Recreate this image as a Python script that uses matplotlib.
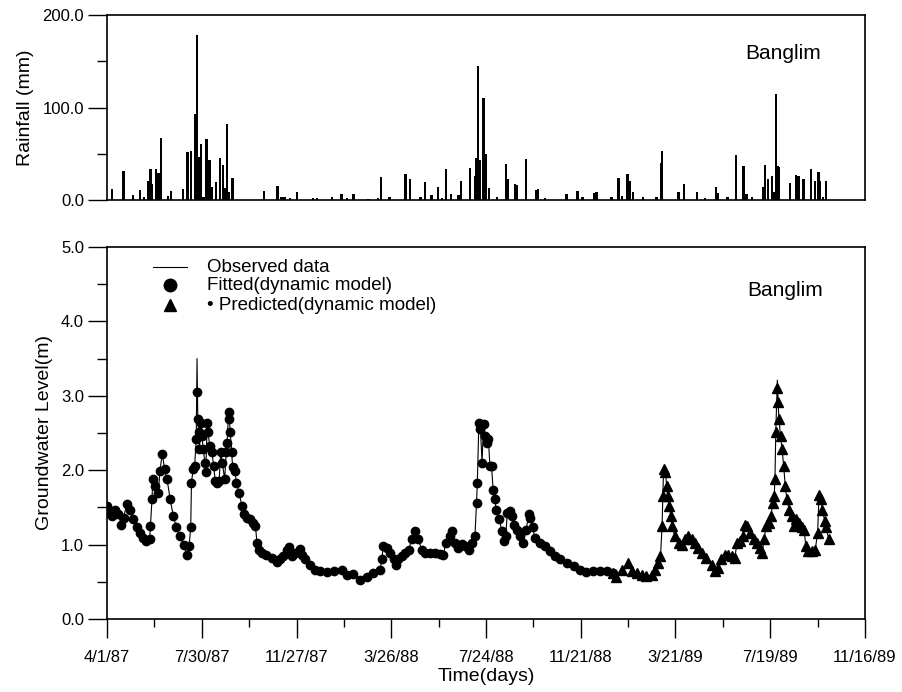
import numpy as np
import matplotlib
matplotlib.use('Agg')
import matplotlib.pyplot as plt
from matplotlib.ticker import MultipleLocator, FormatStrFormatter

plt.rcParams['font.family'] = ['Liberation Sans', 'DejaVu Sans']

# x axis: days since 4/1/87
tick_days = [0, 120, 240, 360, 480, 600, 720, 840, 960]
tick_labels = ['4/1/87', '7/30/87', '11/27/87', '3/26/88', '7/24/88',
               '11/21/88', '3/21/89', '7/19/89', '11/16/89']

# daily rainfall (mm)
rain_day = [6, 21, 33, 42, 47, 52, 55, 57, 62, 65, 68, 77, 81, 96, 102, 106,
            112, 114, 116, 119, 122, 126, 128, 130, 133, 138, 143, 147, 149,
            152, 154, 159, 199, 216, 221, 225, 232, 241, 261, 266, 285, 297,
            304, 312, 331, 343, 347, 358, 378, 384, 397, 403, 411, 419, 424,
            429, 436, 445, 448, 460, 466, 468, 470, 472, 477, 480, 484, 494,
            505, 508, 517, 519, 531, 544, 546, 555, 582, 596, 602, 617, 620,
            639, 648, 652, 659, 662, 666, 679, 696, 702, 703, 724, 731, 747,
            757, 771, 774, 786, 797, 806, 810, 817, 831, 833, 837, 842, 844,
            847, 849, 851, 865, 873, 876, 882, 892, 897, 901, 903, 907, 911]
rain_mm = [11.5, 31.5, 5, 11, 3, 20, 34, 17, 34, 29, 67, 4, 10, 12, 52, 53,
           93, 178, 47, 61, 3, 66, 36, 43, 14, 19, 45, 38, 13,
           82, 9, 24, 10, 15, 3, 3, 2, 9, 2, 2, 3, 6,
           2, 6, 1, 2, 25, 3, 28, 23, 3, 19, 5, 14, 2,
           33, 6, 5, 21, 35, 26, 45, 145, 43, 110, 50, 12.5, 3,
           39, 23, 17, 16, 44, 11, 12, 2, 7, 10, 3, 8, 9,
           3, 24, 4, 28, 21, 9, 3, 3, 40, 53, 9, 17, 9,
           2, 14, 8, 3, 49, 37, 6, 3, 14, 37.5, 23, 26, 9,
           115, 37, 36, 18.6, 27, 26, 23, 34, 20, 30, 21, 3, 20]

# groundwater level (m)
gw_day = [0, 2, 6, 10, 14, 18, 21, 25, 29, 33, 38, 42, 46, 50, 54, 55, 57, 58,
          61, 65, 67, 70, 73, 76, 80, 84, 88, 92, 97, 101, 104, 106, 107, 109,
          111, 113, 114, 115, 116, 117, 119, 120, 122, 124, 125, 127, 128, 130,
          133, 135, 137, 139, 142, 144, 146, 149, 151, 152, 154, 155, 156, 158,
          159, 162, 164, 167, 171, 173, 177, 181, 185, 188, 190, 192, 196, 202,
          209, 215, 219, 223, 228, 231, 234, 238, 244, 247, 251, 257, 263, 270,
          278, 287, 297, 304, 312, 320, 329, 337, 346, 348, 350, 354, 358, 363,
          366, 369, 373, 377, 382, 386, 390, 394, 399, 403, 409, 415, 422, 426,
          429, 434, 437, 441, 445, 449, 453, 458, 462, 466, 468, 469, 471, 473,
          475, 477, 479, 481, 483, 485, 487, 489, 491, 493, 497, 500, 503, 505,
          507, 510, 513, 515, 519, 523, 527, 531, 534, 536, 539, 542, 548, 555,
          561, 567, 574, 582, 591, 599, 607, 616, 624, 633, 641, 645, 652, 660,
          665, 671, 677, 683, 690, 694, 698, 701, 703, 704, 705, 707, 709, 710,
          712, 714, 716, 719, 724, 728, 732, 736, 741, 745, 749, 753, 759, 766,
          770, 774, 778, 783, 787, 791, 795, 798, 802, 805, 808, 811, 814, 819,
          823, 827, 830, 832, 835, 838, 841, 843, 845, 846, 847, 849, 850, 851,
          853, 855, 857, 859, 861, 864, 867, 870, 873, 877, 880, 883, 885, 888,
          893, 897, 900, 902, 904, 906, 909, 911, 914]
gw_obs = [1.52, 1.43, 1.38, 1.47, 1.41, 1.27, 1.36, 1.55, 1.47, 1.34, 1.23,
          1.16, 1.09, 1.05, 1.07, 1.25, 1.61, 1.88, 1.79, 1.70, 1.99, 2.22,
          2.01, 1.88, 1.61, 1.38, 1.23, 1.11, 1.00, 0.86, 0.98, 1.23, 1.83,
          2.01, 2.06, 2.42, 3.50, 2.69, 2.51, 2.28, 2.64, 2.46, 2.28, 2.10,
          1.97, 2.64, 2.51, 2.33, 2.24, 2.06, 1.86, 1.83, 1.86, 2.24, 2.10,
          1.88, 2.24, 2.37, 2.78, 2.69, 2.51, 2.24, 2.04, 1.99, 1.83, 1.70,
          1.52, 1.41, 1.36, 1.34, 1.29, 1.25, 1.02, 0.93, 0.89, 0.86, 0.82,
          0.77, 0.80, 0.84, 0.93, 0.97, 0.84, 0.89, 0.94, 0.86, 0.80, 0.73,
          0.66, 0.64, 0.63, 0.64, 0.66, 0.59, 0.61, 0.53, 0.57, 0.62, 0.66,
          0.80, 0.98, 0.95, 0.89, 0.80, 0.73, 0.80, 0.84, 0.89, 0.93, 1.07,
          1.18, 1.07, 0.93, 0.89, 0.89, 0.89, 0.88, 0.86, 1.02, 1.11, 1.18,
          1.02, 0.95, 1.01, 0.98, 0.93, 1.02, 1.11, 1.56, 1.83, 2.64, 2.55,
          2.10, 2.66, 2.46, 2.37, 2.42, 2.06, 2.06, 1.74, 1.61, 1.47, 1.34,
          1.18, 1.05, 1.11, 1.43, 1.45, 1.38, 1.27, 1.20, 1.11, 1.02, 1.20,
          1.41, 1.36, 1.23, 1.09, 1.02, 0.98, 0.91, 0.84, 0.80, 0.75, 0.71,
          0.66, 0.63, 0.64, 0.65, 0.64, 0.62, 0.57, 0.66, 0.75, 0.64, 0.62,
          0.59, 0.58, 0.59, 0.66, 0.75, 0.84, 1.25, 1.65, 2.05, 1.97, 1.79,
          1.65, 1.52, 1.38, 1.25, 1.11, 1.02, 1.00, 1.07, 1.11, 1.07, 1.02,
          0.95, 0.89, 0.82, 0.73, 0.64, 0.68, 0.80, 0.86, 0.86, 0.84, 0.82,
          1.02, 1.05, 1.11, 1.27, 1.25, 1.16, 1.07, 1.02, 0.95, 0.89, 1.07,
          1.25, 1.29, 1.38, 1.56, 1.65, 1.88, 2.51, 3.21, 2.91, 2.69, 2.46,
          2.28, 2.06, 1.79, 1.61, 1.47, 1.38, 1.25, 1.34, 1.29, 1.23, 1.20,
          0.98, 0.91, 0.91, 0.93, 1.16, 1.70, 1.61, 1.47, 1.32, 1.23, 1.07]
gw_sim = [1.52, 1.43, 1.38, 1.47, 1.41, 1.27, 1.36, 1.55, 1.47, 1.34, 1.23,
          1.16, 1.09, 1.05, 1.07, 1.25, 1.61, 1.88, 1.79, 1.70, 1.99, 2.22,
          2.01, 1.88, 1.61, 1.38, 1.23, 1.11, 1.00, 0.86, 0.98, 1.23, 1.83,
          2.01, 2.06, 2.42, 3.05, 2.69, 2.51, 2.28, 2.64, 2.46, 2.28, 2.10,
          1.97, 2.64, 2.51, 2.33, 2.24, 2.06, 1.86, 1.83, 1.86, 2.24, 2.10,
          1.88, 2.24, 2.37, 2.78, 2.69, 2.51, 2.24, 2.04, 1.99, 1.83, 1.70,
          1.52, 1.41, 1.36, 1.34, 1.29, 1.25, 1.02, 0.93, 0.89, 0.86, 0.82,
          0.77, 0.80, 0.84, 0.93, 0.97, 0.84, 0.89, 0.94, 0.86, 0.80, 0.73,
          0.66, 0.64, 0.63, 0.64, 0.66, 0.59, 0.61, 0.53, 0.57, 0.62, 0.66,
          0.80, 0.98, 0.95, 0.89, 0.80, 0.73, 0.80, 0.84, 0.89, 0.93, 1.07,
          1.18, 1.07, 0.93, 0.89, 0.89, 0.89, 0.88, 0.86, 1.02, 1.11, 1.18,
          1.02, 0.95, 1.01, 0.98, 0.93, 1.02, 1.11, 1.56, 1.83, 2.64, 2.55,
          2.10, 2.62, 2.46, 2.37, 2.42, 2.06, 2.06, 1.74, 1.61, 1.47, 1.34,
          1.18, 1.05, 1.11, 1.43, 1.45, 1.38, 1.27, 1.20, 1.11, 1.02, 1.20,
          1.41, 1.36, 1.23, 1.09, 1.02, 0.98, 0.91, 0.84, 0.80, 0.75, 0.71,
          0.66, 0.63, 0.64, 0.65, 0.64, 0.62, 0.57, 0.66, 0.75, 0.64, 0.62,
          0.59, 0.58, 0.59, 0.66, 0.75, 0.84, 1.25, 1.65, 2.02, 1.97, 1.79,
          1.65, 1.52, 1.38, 1.25, 1.11, 1.02, 1.00, 1.07, 1.11, 1.07, 1.02,
          0.95, 0.89, 0.82, 0.73, 0.64, 0.68, 0.80, 0.86, 0.86, 0.84, 0.82,
          1.02, 1.05, 1.11, 1.27, 1.25, 1.16, 1.07, 1.02, 0.95, 0.89, 1.07,
          1.25, 1.29, 1.38, 1.56, 1.65, 1.88, 2.51, 3.10, 2.91, 2.69, 2.46,
          2.28, 2.06, 1.79, 1.61, 1.47, 1.38, 1.25, 1.34, 1.29, 1.23, 1.20,
          0.98, 0.91, 0.91, 0.93, 1.16, 1.66, 1.61, 1.47, 1.32, 1.23, 1.07]
fit_end = 641  # fitted up to here, predicted afterwards

gw_day = np.array(gw_day)
gw_sim = np.array(gw_sim)
fit = gw_day <= fit_end
pred = gw_day >= fit_end

fig = plt.figure(figsize=(9.03, 6.92), dpi=100)
ax1 = fig.add_axes([0.1185, 0.711, 0.8394, 0.2673])
ax2 = fig.add_axes([0.1185, 0.1055, 0.8394, 0.5376])

#%% rainfall
ax1.bar(rain_day, rain_mm, width=3.0, color='k', align='center')
ax1.set_xlim(0, 960)
ax1.set_ylim(0, 200)
ax1.yaxis.set_major_locator(MultipleLocator(100))
ax1.yaxis.set_minor_locator(MultipleLocator(50))
ax1.yaxis.set_major_formatter(FormatStrFormatter('%.1f'))
ax1.set_xticks([])
ax1.tick_params(axis='y', which='major', direction='out', length=13.5, width=1.0, labelsize=12, pad=3)
ax1.tick_params(axis='y', which='minor', direction='out', length=7.5, width=1.0)
ax1.set_ylabel('Rainfall (mm)', fontsize=14, labelpad=6)
ax1.text(0.892, 0.79, 'Banglim', transform=ax1.transAxes, fontsize=15, ha='center', va='center')

#%% groundwater level
ax2.plot(gw_day, gw_obs, c='k', lw=0.8, zorder=2)
ax2.plot(gw_day[fit], gw_sim[fit], ls='none', marker='o', ms=6, mfc='k', mec='k', zorder=3)
ax2.plot(gw_day[pred], gw_sim[pred], ls='none', marker='^', ms=6.5, mfc='k', mec='k', zorder=3)
ax2.set_xlim(0, 960)
ax2.set_ylim(0, 5)
ax2.set_xticks(tick_days)
ax2.set_xticklabels(tick_labels)
ax2.xaxis.set_minor_locator(MultipleLocator(60))
ax2.yaxis.set_major_locator(MultipleLocator(1))
ax2.yaxis.set_minor_locator(MultipleLocator(0.5))
ax2.yaxis.set_major_formatter(FormatStrFormatter('%.1f'))
ax2.tick_params(axis='y', which='major', direction='out', length=13.5, width=1.0, labelsize=12, pad=3)
ax2.tick_params(axis='x', which='major', direction='out', length=13.5, width=1.0, labelsize=12, pad=9)
ax2.tick_params(axis='y', which='minor', direction='out', length=7.5, width=1.0)
ax2.tick_params(axis='x', which='minor', direction='out', length=6, width=1.0)
ax2.set_xlabel('Time(days)', fontsize=14, labelpad=2)
ax2.set_ylabel('Groundwater Level(m)', fontsize=14, labelpad=6)
ax2.text(0.894, 0.884, 'Banglim', transform=ax2.transAxes, fontsize=15, ha='center', va='center')

# legend drawn by hand
lx0, lx1, ltx = 0.061, 0.106, 0.132
rows = [0.946, 0.897, 0.844]
ax2.plot([lx0, lx1], [rows[0], rows[0]], c='k', lw=0.8, transform=ax2.transAxes, clip_on=False)
ax2.plot([(lx0 + lx1) / 2], [rows[1]], marker='o', ms=9, c='k', transform=ax2.transAxes, clip_on=False)
ax2.plot([(lx0 + lx1) / 2], [rows[2]], marker='^', ms=9, c='k', transform=ax2.transAxes, clip_on=False)
ax2.text(ltx, rows[0], 'Observed data', transform=ax2.transAxes, fontsize=13.5, va='center')
ax2.text(ltx, rows[1], 'Fitted(dynamic model)', transform=ax2.transAxes, fontsize=13.5, va='center')
ax2.text(ltx, rows[2], '\u2022 Predicted(dynamic model)', transform=ax2.transAxes, fontsize=13.5,
         va='center', ha='left')

for ax in (ax1, ax2):
    for s in ax.spines.values():
        s.set_linewidth(1.2)

fig.savefig('out.png', dpi=100)
